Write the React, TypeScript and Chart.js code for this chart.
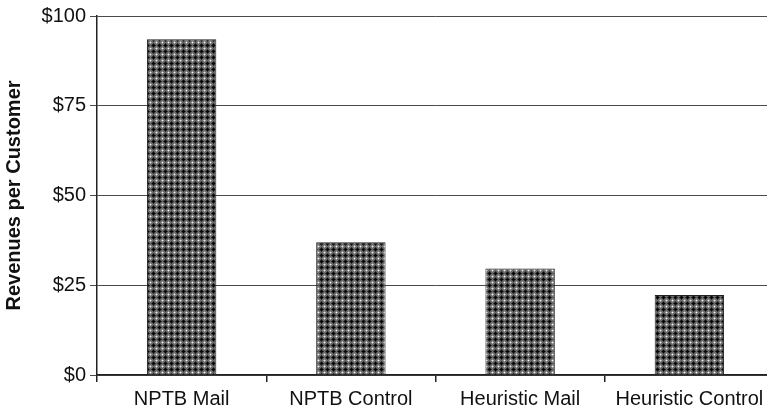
import React, { useEffect, useRef } from "react";
import { Chart, registerables } from "chart.js";

Chart.register(...registerables);

const categories = ["NPTB Mail", "NPTB Control", "Heuristic Mail", "Heuristic Control"];
const revenues = [93.5, 37, 29.7, 22.3];
const yTickValues = [0, 25, 50, 75, 100];
const yTitle = "Revenues per Customer";

function makePattern(ctx: CanvasRenderingContext2D): CanvasPattern | string {
  const c = document.createElement("canvas");
  c.width = 6;
  c.height = 6;
  const p = c.getContext("2d");
  if (!p) return "#666";
  p.fillStyle = "#6a6a6a";
  p.fillRect(0, 0, 6, 6);
  p.fillStyle = "#a0a0a0";
  [[1, 0], [0, 1], [5, 0], [0, 5]].forEach(([x, y]) => p.fillRect(x, y, 1, 1));
  p.fillStyle = "#f4f4f4";
  p.fillRect(0, 0, 1, 1);
  p.fillStyle = "#333";
  [[3, 1], [1, 3], [5, 3], [3, 5], [2, 2], [4, 2], [2, 4], [4, 4]].forEach(([x, y]) => p.fillRect(x, y, 1, 1));
  p.fillStyle = "#050505";
  [[3, 2], [2, 3], [3, 3], [4, 3], [3, 4]].forEach(([x, y]) => p.fillRect(x, y, 1, 1));
  return ctx.createPattern(c, "repeat") || "#666";
}

export default function App() {
  const ref = useRef<HTMLCanvasElement | null>(null);

  useEffect(() => {
    const canvas = ref.current;
    if (!canvas) return;
    const ctx = canvas.getContext("2d");
    if (!ctx) return;
    const pattern = makePattern(ctx);
    const chart = new Chart(ctx, {
      type: "bar",
      data: {
        labels: categories,
        datasets: [
          {
            data: revenues,
            backgroundColor: pattern as any,
            borderColor: "#222",
            borderWidth: 1,
            categoryPercentage: 0.82,
            barPercentage: 0.5,
          },
        ],
      },
      options: {
        animation: false,
        responsive: false,
        devicePixelRatio: 1,
        layout: { padding: { top: 16, right: 2, left: 0, bottom: 0 } },
        plugins: {
          legend: { display: false },
          tooltip: { enabled: false },
        },
        scales: {
          x: {
            grid: {
              offset: true,
              drawOnChartArea: false,
              drawTicks: true,
              tickLength: 7,
              color: "#222",
              lineWidth: 1.5,
            },
            border: { display: true, color: "#222", width: 1.5 },
            ticks: {
              color: "#111",
              padding: 5,
              maxRotation: 0,
              font: { family: "'Liberation Sans', Arial, sans-serif", size: 20 },
            },
            afterFit: (s: any) => {
              s.height = 42;
            },
          },
          y: {
            min: 0,
            max: 100,
            afterBuildTicks: (s: any) => {
              s.ticks = yTickValues.map((v) => ({ value: v }));
            },
            ticks: {
              color: "#111",
              padding: 4,
              callback: (v: any) => "$" + v,
              font: { family: "'Liberation Sans', Arial, sans-serif", size: 20 },
            },
            grid: {
              color: "#4a4a4a",
              lineWidth: 1,
              tickLength: 7,
            },
            border: { display: true, color: "#222", width: 1.5 },
            title: {
              display: true,
              text: yTitle,
              color: "#111",
              padding: { top: 2, bottom: 0 },
              font: { family: "'Liberation Sans', Arial, sans-serif", size: 20, weight: "bold" },
            },
            afterFit: (s: any) => {
              s.width = 97;
            },
          },
        },
      },
    });
    return () => chart.destroy();
  }, []);

  return (
    <div style={{ position: "fixed", left: 0, top: 0, width: 776, height: 417, background: "#fff" }}>
      <canvas ref={ref} width={776} height={417} style={{ display: "block" }} />
    </div>
  );
}
